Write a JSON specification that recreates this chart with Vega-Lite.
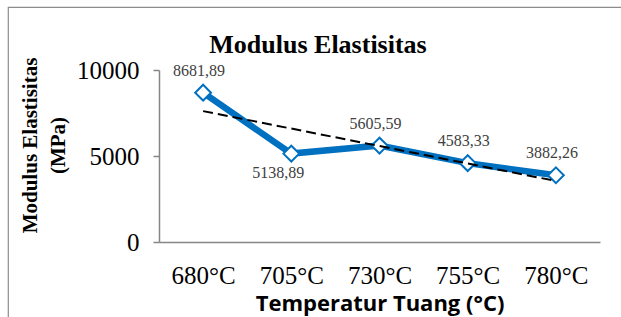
{
  "$schema": "https://vega.github.io/schema/vega-lite/v6.json",
  "autosize": "none",
  "padding": {"left": 8, "top": 7, "right": 0, "bottom": 0},
  "width": 620,
  "height": 320,
  "background": "white",
  "title": {
    "text": "Modulus Elastisitas",
    "font": "Liberation Serif",
    "fontSize": 26,
    "fontWeight": "bold",
    "color": "black",
    "anchor": "middle",
    "baseline": "alphabetic",
    "offset": 0,
    "dx": 0,
    "dy": 72
  },
  "config": {
    "view": {"stroke": "#8c8c8c", "strokeWidth": 1.2},
    "axis": {"grid": false}
  },
  "data": {
    "values": [
      {"temp": "680°C", "value": 8681.89, "label": "8681,89", "trend": 7609.35},
      {"temp": "705°C", "value": 5138.89, "label": "5138,89", "trend": null},
      {"temp": "730°C", "value": 5605.59, "label": "5605,59", "trend": null},
      {"temp": "755°C", "value": 4583.33, "label": "4583,33", "trend": null},
      {"temp": "780°C", "value": 3882.26, "label": "3882,26", "trend": 3547.43}
    ]
  },
  "encoding": {
    "x": {
      "field": "temp",
      "type": "ordinal",
      "sort": null,
      "scale": {"type": "point", "range": [151, 592], "padding": 0.5},
      "axis": {
        "title": "Temperatur Tuang (°C)",
        "titleFont": "Open Sans",
        "titleFontSize": 22,
        "titleFontWeight": "bold",
        "titleColor": "black",
        "titlePadding": 5,
        "labelFont": "Liberation Serif",
        "labelFontSize": 25,
        "labelColor": "black",
        "labelAngle": 0,
        "labelPadding": 21,
        "ticks": false,
        "domainColor": "#868686",
        "domainWidth": 1.5,
        "offset": -85
      }
    }
  },
  "layer": [
    {
      "mark": {"type": "line", "color": "#0070C0", "strokeWidth": 6.5},
      "encoding": {
        "y": {
          "field": "value",
          "type": "quantitative",
          "scale": {"domain": [0, 10000], "range": [235, 63], "nice": false, "zero": true},
          "axis": {
            "values": [0, 5000, 10000],
            "format": "d",
            "title": ["Modulus Elastisitas", "(MPa)"],
            "titleFont": "Liberation Serif",
            "titleFontSize": 21,
            "titleFontWeight": "bold",
            "titleColor": "black",
            "titleLineHeight": 28,
            "titlePadding": 8,
            "titleY": 138,
            "labelFont": "Liberation Serif",
            "labelFontSize": 25,
            "labelColor": "black",
            "labelPadding": 14,
            "tickSize": 6,
            "tickColor": "#868686",
            "tickWidth": 1.5,
            "domainColor": "#868686",
            "domainWidth": 1.5,
            "offset": -151
          }
        }
      }
    },
    {
      "mark": {"type": "point", "shape": "diamond", "filled": true, "fill": "white", "stroke": "#0070C0", "strokeWidth": 2, "size": 250, "opacity": 1},
      "encoding": {"y": {"field": "value", "type": "quantitative"}}
    },
    {
      "transform": [{"filter": "datum.trend != null"}],
      "mark": {"type": "line", "color": "black", "strokeWidth": 2, "strokeDash": [10, 5]},
      "encoding": {"y": {"field": "trend", "type": "quantitative"}}
    },
    {
      "transform": [{"filter": "datum.temp != '705°C'"}],
      "mark": {"type": "text", "font": "Liberation Serif", "fontSize": 16, "color": "#404040", "dy": -22, "dx": -4},
      "encoding": {"y": {"field": "value", "type": "quantitative"}, "text": {"field": "label"}}
    },
    {
      "transform": [{"filter": "datum.temp == '705°C'"}],
      "mark": {"type": "text", "font": "Liberation Serif", "fontSize": 16, "color": "#404040", "dy": 19, "dx": -13},
      "encoding": {"y": {"field": "value", "type": "quantitative"}, "text": {"field": "label"}}
    }
  ]
}
